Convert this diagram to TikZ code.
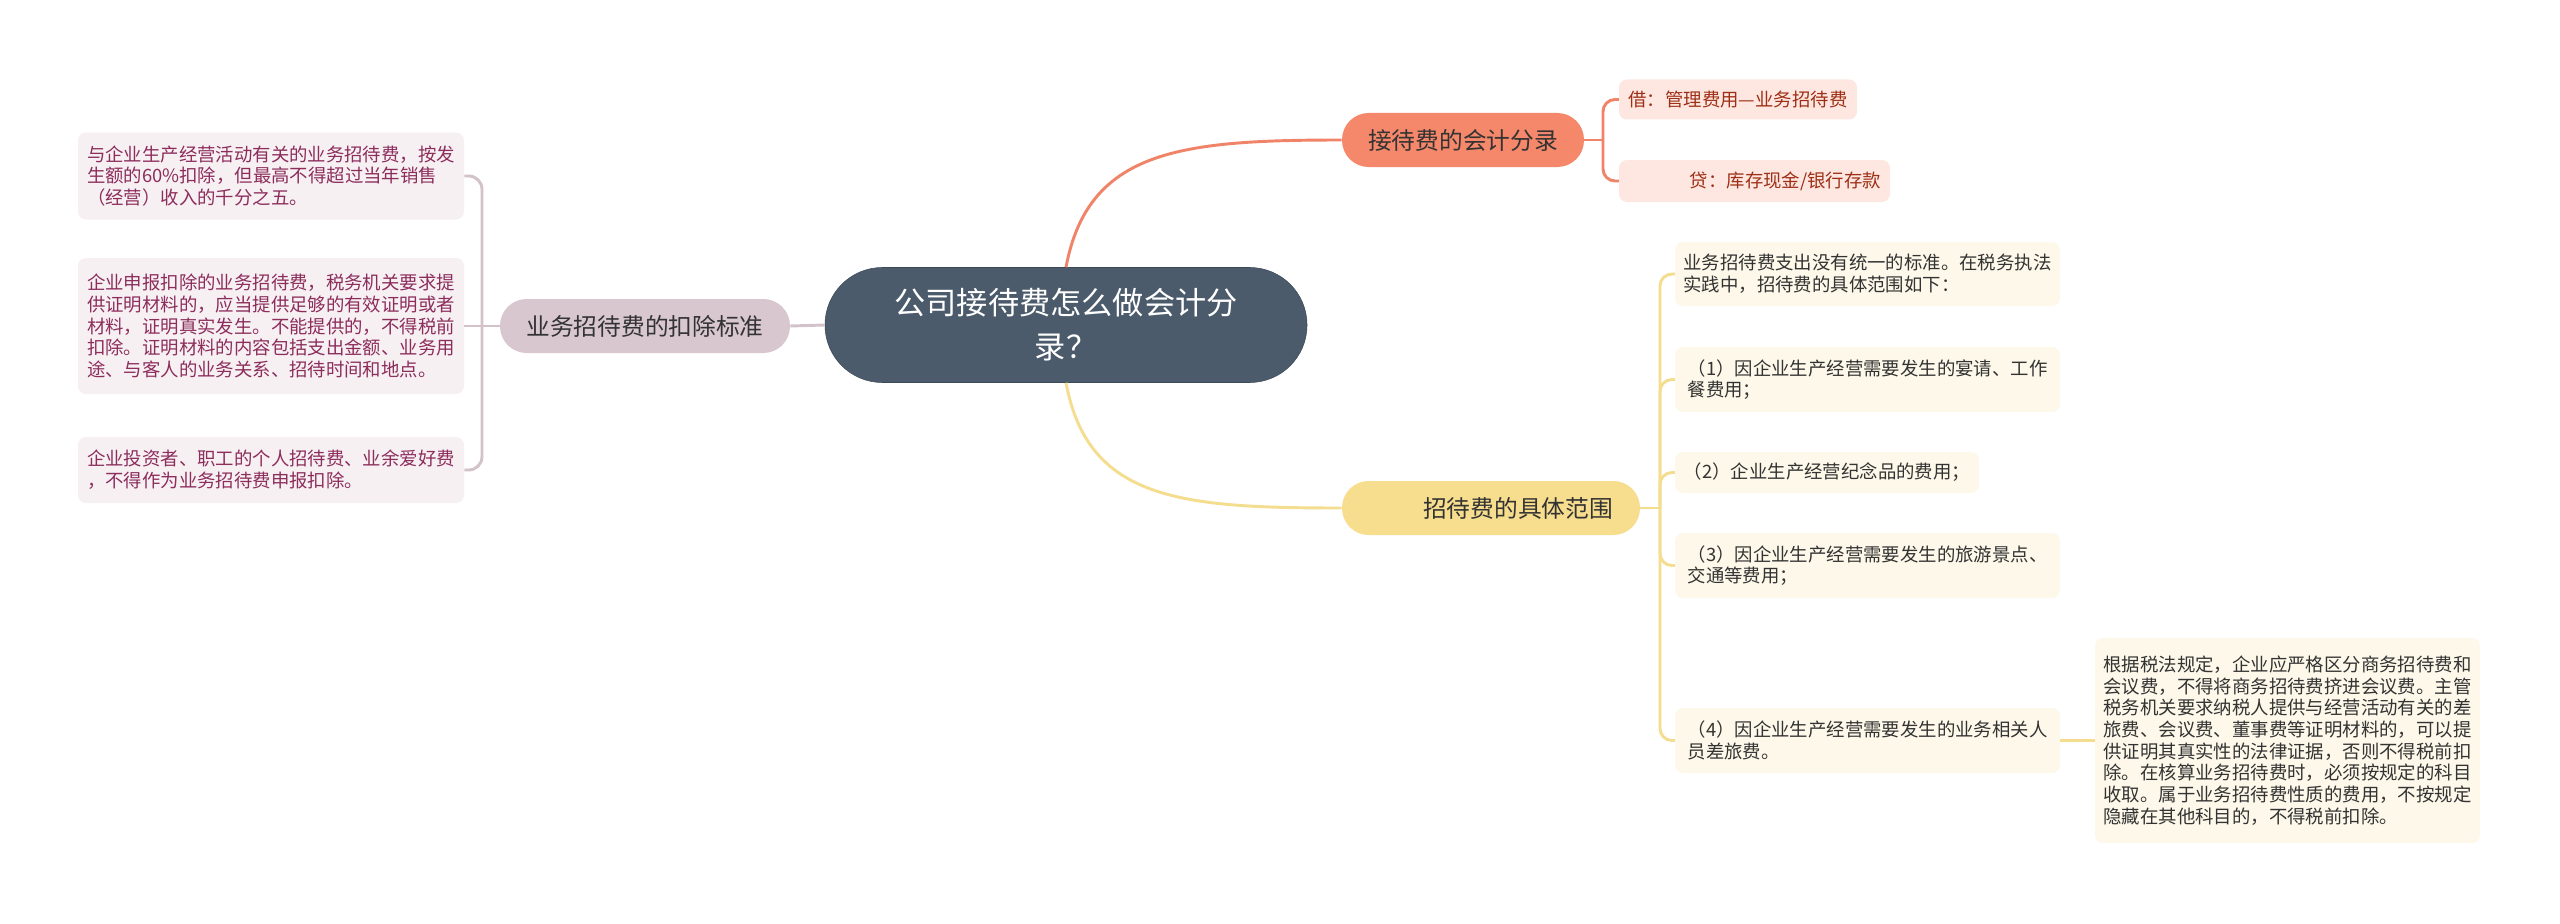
\documentclass[tikz,border=0pt]{standalone}
\usepackage{fontspec}
\setmainfont{Noto Sans CJK SC}
\definecolor{rootfill}{RGB}{75,91,107}
\definecolor{dedline}{RGB}{211,194,201}
\definecolor{dedmain}{RGB}{216,199,207}
\definecolor{dedleaf}{RGB}{247,240,243}
\definecolor{dedtext}{RGB}{140,45,92}
\definecolor{accline}{RGB}{240,132,104}
\definecolor{accmain}{RGB}{245,135,106}
\definecolor{accleaf}{RGB}{253,231,224}
\definecolor{acctext}{RGB}{158,47,22}
\definecolor{rngline}{RGB}{245,221,144}
\definecolor{rngmain}{RGB}{247,221,142}
\definecolor{rngleaf}{RGB}{253,248,233}
\definecolor{rngtext}{RGB}{51,51,51}
\newcommand{\leaffont}{\fontsize{13.8pt}{16.3pt}\selectfont}
\newcommand{\branchfont}{\fontsize{17.8pt}{21pt}\selectfont}
\newcommand{\rootfont}{\fontsize{23.4pt}{33pt}\selectfont}
\tikzset{
  rootnode/.style={draw=rootfill!80!black, fill=rootfill, text=white, rounded corners=43pt,
    minimum width=361.5pt, minimum height=86.25pt, inner sep=0pt, align=center, font=\rootfont},
  branch/.style={rounded corners=20pt, minimum height=40.5pt, inner sep=0pt, text=rngtext, font=\branchfont},
  leaf/.style={rounded corners=6pt, inner sep=0pt, align=left, font=\leaffont},
  dedleafbox/.style={leaf, fill=dedleaf, text=dedtext, minimum width=289.5pt},
  accleafbox/.style={leaf, fill=accleaf, text=acctext},
  rngleafbox/.style={leaf, fill=rngleaf, text=rngtext, minimum width=288.75pt},
  link/.style={line width=2.2pt},
}
\begin{document}
\begin{tikzpicture}[x=0.75pt,y=-0.75pt]
\useasboundingbox[fill=white] (0,0) rectangle (2560,924);

% centre
\node[rootnode] (root) at (1066,325) {公司接待费怎么做会计分\\录？};

% left branch
\node[branch, fill=dedmain, minimum width=217.5pt] (deduct) at (645,326) {业务招待费的扣除标准};
\node[dedleafbox, minimum height=65.25pt] (dedA) at (271,176) {与企业生产经营活动有关的业务招待费，按发\\生额的60\%扣除，但最高不得超过当年销售\\（经营）收入的千分之五。};
\node[dedleafbox, minimum height=102pt] (dedB) at (271,326) {企业申报扣除的业务招待费，税务机关要求提\\供证明材料的，应当提供足够的有效证明或者\\材料，证明真实发生。不能提供的，不得税前\\扣除。证明材料的内容包括支出金额、业务用\\途、与客人的业务关系、招待时间和地点。};
\node[dedleafbox, minimum height=49.5pt] (dedC) at (271,470) {企业投资者、职工的个人招待费、业余爱好费\\，不得作为业务招待费申报扣除。};

% upper right branch
\node[branch, fill=accmain, minimum width=181.5pt] (account) at (1463,140) {接待费的会计分录};
\node[accleafbox, minimum width=178.5pt, minimum height=30pt] (debit) at (1738,99.5) {借：管理费用—业务招待费};
\node[accleafbox, minimum width=203.25pt, minimum height=31.5pt, text width=189.75pt, align=right] (credit) at (1754.5,181) {贷：库存现金/银行存款};

% lower right branch
\node[branch, fill=rngmain, minimum width=223.5pt, text width=183pt, inner xsep=20.25pt, align=right] (range) at (1491,508) {招待费的具体范围};
\node[rngleafbox, minimum height=48pt] (rngA) at (1867.5,274) {业务招待费支出没有统一的标准。在税务执法\\实践中，招待费的具体范围如下：};
\node[rngleafbox, minimum height=48.75pt] (rngB) at (1867.5,379.5) {（1）因企业生产经营需要发生的宴请、工作\\餐费用；};
\node[leaf, fill=rngleaf, text=rngtext, minimum width=228pt, minimum height=30.75pt] (rngC) at (1827,472.5) {（2）企业生产经营纪念品的费用；};
\node[rngleafbox, minimum height=48.75pt] (rngD) at (1867.5,565.5) {（3）因企业生产经营需要发生的旅游景点、\\交通等费用；};
\node[rngleafbox, minimum height=48.75pt] (rngE) at (1867.5,740.5) {（4）因企业生产经营需要发生的业务相关人\\员差旅费。};
\node[rngleafbox, minimum height=153.75pt] (rngNote) at (2287.5,740.5) {根据税法规定，企业应严格区分商务招待费和\\会议费，不得将商务招待费挤进会议费。主管\\税务机关要求纳税人提供与经营活动有关的差\\旅费、会议费、董事费等证明材料的，可以提\\供证明其真实性的法律证据，否则不得税前扣\\除。在核算业务招待费时，必须按规定的科目\\收取。属于业务招待费性质的费用，不按规定\\隐藏在其他科目的，不得税前扣除。};

% connectors
\draw[link, accline] (root.north) .. controls (1088,150) and (1180,140) .. (account.west);
\draw[link, rngline] (root.south) .. controls (1088,500) and (1180,508) .. (range.west);
\draw[link, dedline] (root.west) -- (deduct.east);

\coordinate (dedJoint) at (482,326);
\draw[link, dedline] (deduct.west) -- (dedJoint) -- (dedB.east);
\foreach \leafname in {dedA,dedC}
  \draw[link, dedline, rounded corners=10pt] (dedJoint) |- (\leafname.east);

\coordinate (accJoint) at (1603,140);
\draw[link, accline] (account.east) -- (accJoint);
\foreach \leafname in {debit,credit}
  \draw[link, accline, rounded corners=9pt] (accJoint) |- (\leafname.west);

\coordinate (rngJoint) at (1660,508);
\draw[link, rngline] (range.east) -- (rngJoint);
\foreach \leafname in {rngA,rngB,rngC,rngD,rngE}
  \draw[link, rngline, rounded corners=9pt] (rngJoint) |- (\leafname.west);
\draw[link, rngline] (rngE.east) -- (rngNote.west);
\end{tikzpicture}
\end{document}
